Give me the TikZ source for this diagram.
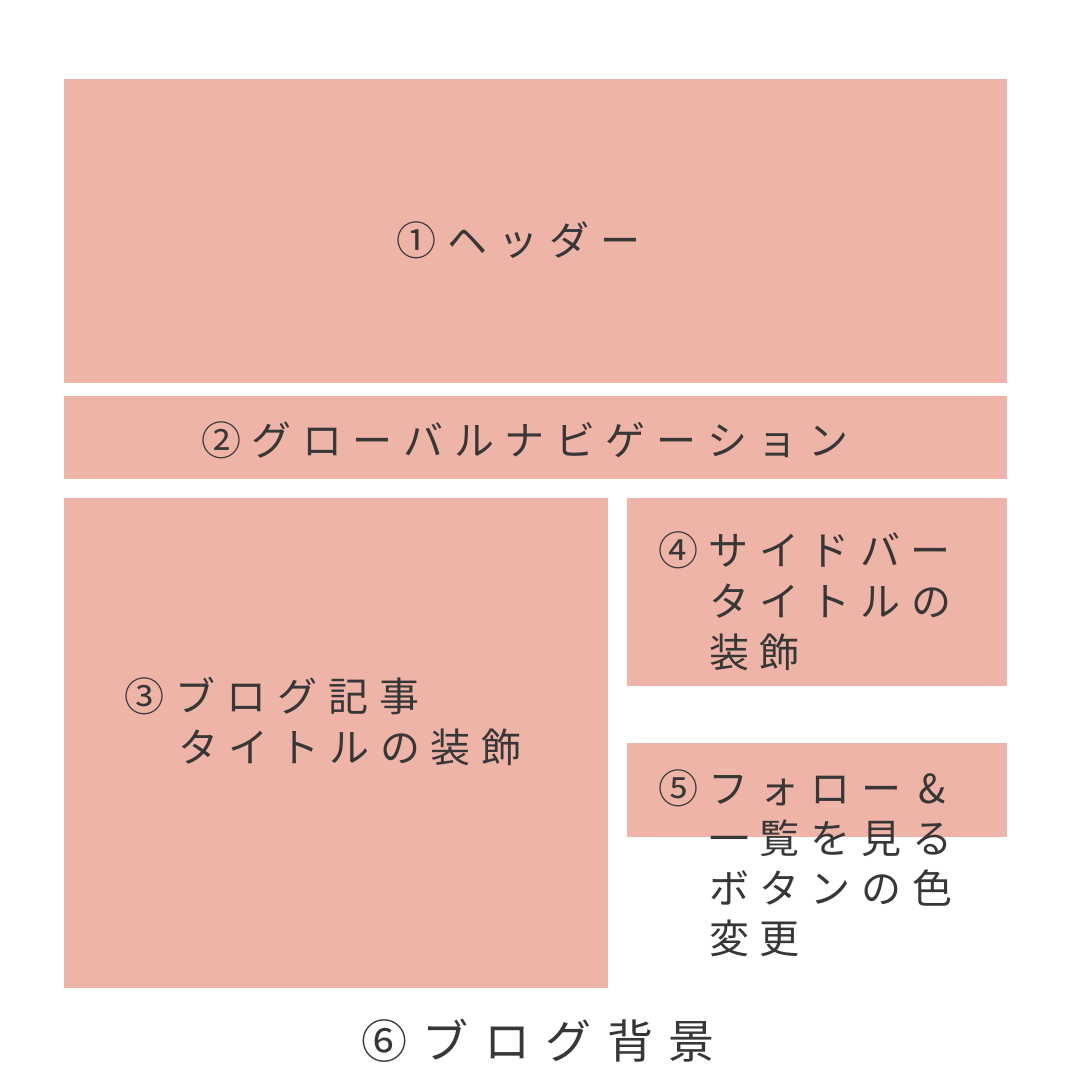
\documentclass[tikz,border=0pt]{standalone}
\usepackage{fontspec}
\newfontfamily\jp{Noto Sans CJK JP}
\definecolor{boxpink}{RGB}{239,180,168}
\definecolor{ink}{RGB}{55,55,55}
\begin{document}
\begin{tikzpicture}[x=1pt,y=-1pt,
  box/.style={fill=boxpink},
  ch/.style={inner sep=0pt, text=ink, font=\jp\fontsize{40}{40}\selectfont,
    text height=35.2pt, text depth=4.8pt, anchor=center},
  bigch/.style={ch, font=\jp\fontsize{46}{46}\selectfont,
    text height=40.5pt, text depth=5.5pt}]
\useasboundingbox (0,0) rectangle (1077,1079);
\fill[white] (0,0) rectangle (1077,1079);
% boxes
\fill[box] (64,79) rectangle (1007,383);
\fill[box] (64,396) rectangle (1007,479);
\fill[box] (64,498) rectangle (608,988);
\fill[box] (627,498) rectangle (1007,686);
\fill[box] (627,743) rectangle (1007,837);
% (1) header
\foreach \c [count=\i from 0] in {①,ヘ,ッ,ダ,ー}
  \node[ch] (hd\i) at ({416+\i*51},240) {\c};
% (2) navigation
\foreach \c [count=\i from 0] in {②,グ,ロ,ー,バ,ル,ナ,ビ,ゲ,ー,シ,ョ,ン}
  \node[ch] (nv\i) at ({221+\i*50.6},440) {\c};
% (3) main
\foreach \c [count=\i from 0] in {③,ブ,ロ,グ,記,事}
  \node[ch] (ma\i) at ({144+\i*51},696) {\c};
\foreach \c [count=\i from 0] in {タ,イ,ト,ル,の,装,飾}
  \node[ch] (mb\i) at ({198+\i*50.5},747) {\c};
% (4) sidebar
\foreach \c [count=\i from 0] in {④,サ,イ,ド,バ,ー}
  \node[ch] (sa\i) at ({678+\i*50.5},550) {\c};
\foreach \c [count=\i from 0] in {タ,イ,ト,ル,の}
  \node[ch] (sb\i) at ({729+\i*50.5},601) {\c};
\foreach \c [count=\i from 0] in {装,飾}
  \node[ch] (sc\i) at ({729+\i*50.5},652) {\c};
% (5) follow
\foreach \c [count=\i from 0] in {⑤,フ,ォ,ロ,ー,{\&}}
  \node[ch] (fa\i) at ({678+\i*50.8},788) {\c};
\foreach \c [count=\i from 0] in {一,覧,を,見,る}
  \node[ch] (fb\i) at ({729+\i*50.8},838) {\c};
\foreach \c [count=\i from 0] in {ボ,タ,ン,の,色}
  \node[ch] (fc\i) at ({729+\i*50.8},888) {\c};
\foreach \c [count=\i from 0] in {変,更}
  \node[ch] (fd\i) at ({729+\i*50.8},938) {\c};
% (6) background
\foreach \c [count=\i from 0] in {⑥,ブ,ロ,グ,背,景}
  \node[bigch] (bg\i) at ({384+\i*61.5},1041) {\c};
\end{tikzpicture}
\end{document}
